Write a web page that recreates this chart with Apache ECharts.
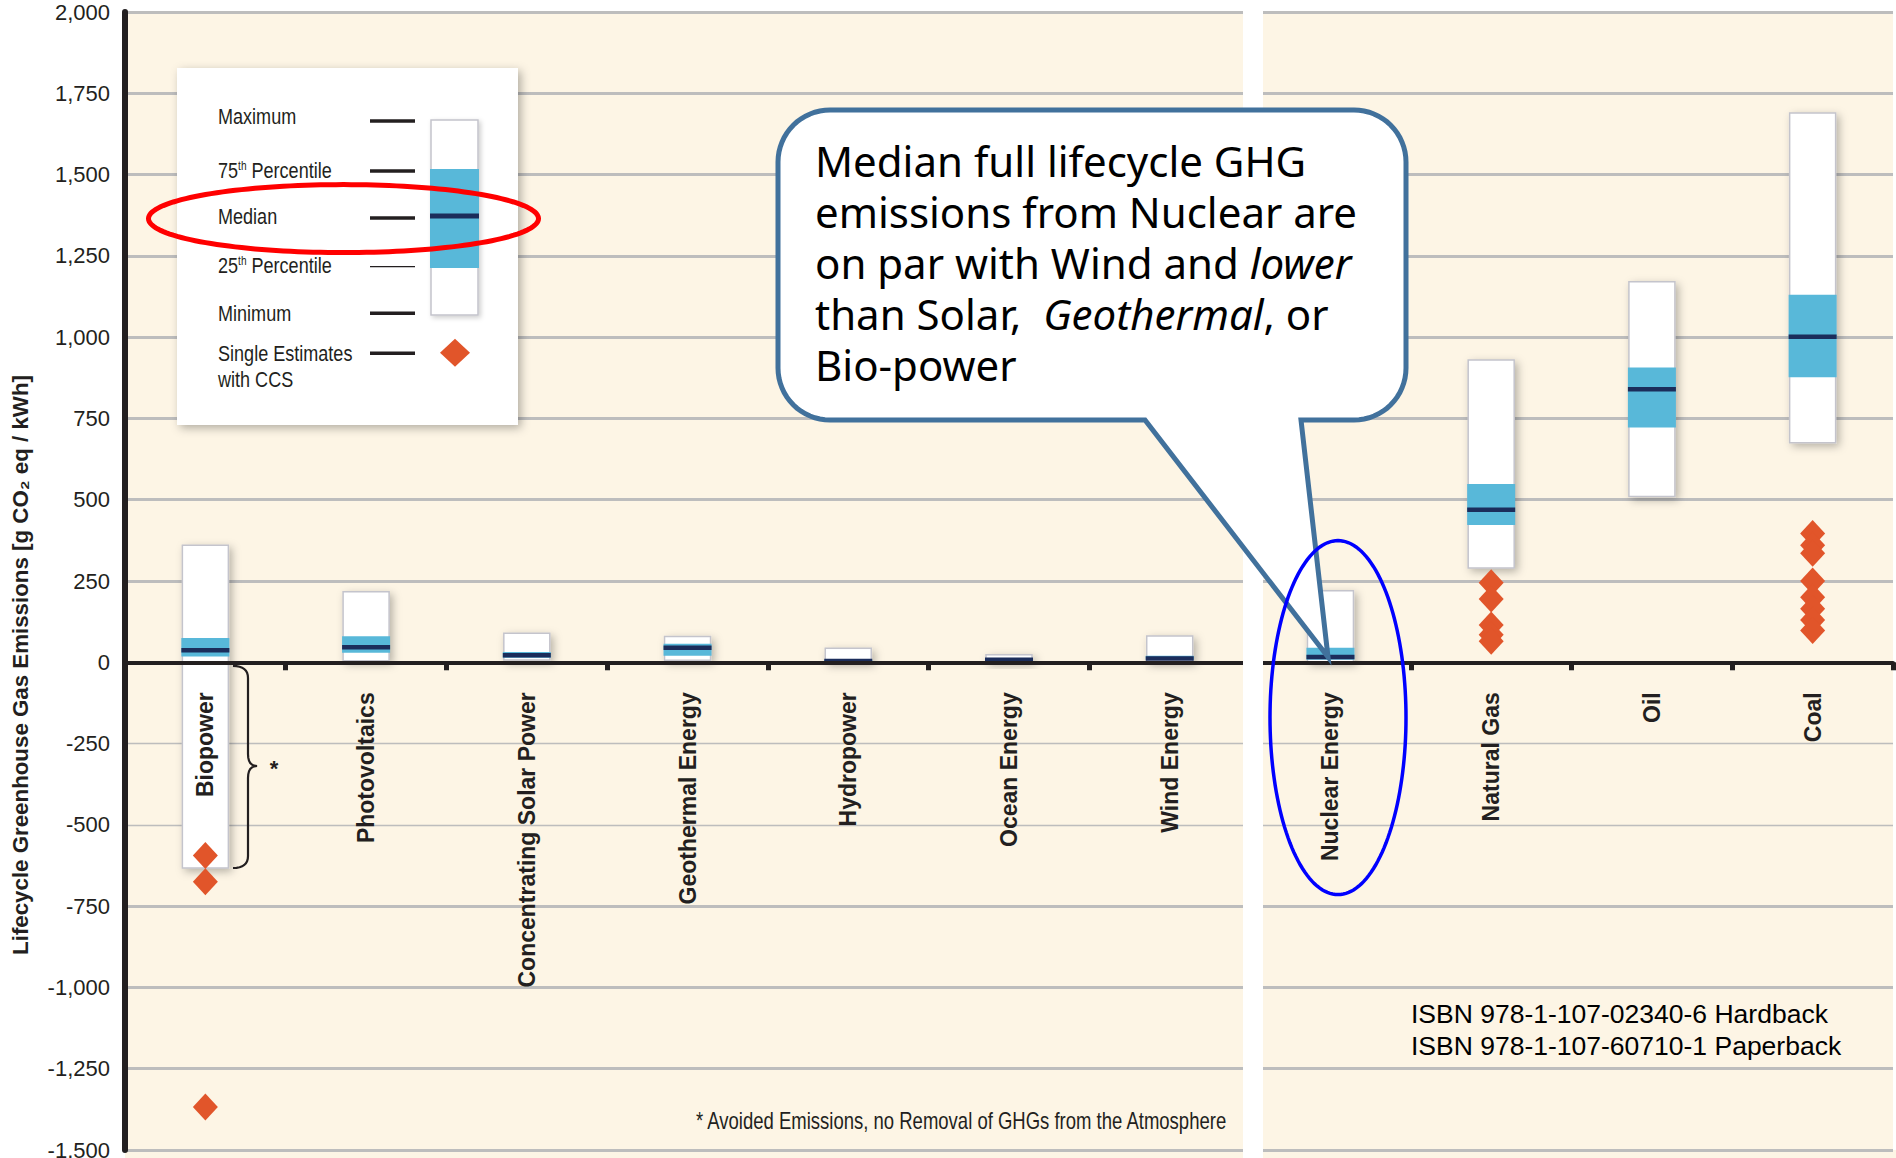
<!DOCTYPE html>
<html>
<head>
<meta charset="utf-8">
<script src="https://cdn.jsdelivr.net/npm/echarts/dist/echarts.min.js"></script>
<style>html,body{margin:0;padding:0;background:#ffffff;}#chart{width:1896px;height:1158px;}</style>
</head>
<body>
<div id="chart"></div>
<script>
// ---- data (g CO2 eq / kWh) ----
const categories = ['Biopower','Photovoltaics','Concentrating Solar Power','Geothermal Energy','Hydropower','Ocean Energy','Wind Energy','Nuclear Energy','Natural Gas','Oil','Coal'];
const minimum = [-633, 5, 7, 6, 0, 2, 2, 1, 290, 510, 675];
const p25     = [18, 29, 14, 20, 3, 6, 8, 8, 422, 722, 877];
const median  = [37, 46, 22, 45, 4, 8, 12, 16, 469, 840, 1001];
const p75     = [75, 80, 32, 57, 7, 9, 20, 45, 548, 907, 1130];
const maximum = [360, 217, 89, 79, 43, 23, 81, 220, 930, 1170, 1689];
const ccsBiopower = [-594, -675, -1368];
const ccsNaturalGas = [245, 195, 115, 85, 65];
const ccsCoal = [396, 360, 335, 250, 200, 165, 130, 98];
const gridTicks = [-1500, -1250, -1000, -750, -500, -250, 250, 500, 750, 1000, 1250, 1500, 1750, 2000];
const thinTicks = [-250, -500];
const legendLabels = ['Maximum', '75{sup|th} Percentile', 'Median', '25{sup|th} Percentile', 'Minimum', 'Single Estimates', 'with CCS'];
// callout lines: segments of [text, italic]
const calloutLines = [
  [['Median full lifecycle GHG', false]],
  [['emissions from Nuclear are', false]],
  [['on par with Wind and ', false], ['lower', true]],
  [['than Solar,  ', false], ['Geothermal', true], [', or', false]],
  [['Bio-power', false]]
];
const isbnLines = ['ISBN 978-1-107-02340-6 Hardback', 'ISBN 978-1-107-60710-1 Paperback'];
const footnote = '* Avoided Emissions, no Removal of GHGs from the Atmosphere';
const yTitle = 'Lifecycle Greenhouse Gas Emissions [g CO\u2082 eq / kWh]';

const SANS = "'Liberation Sans',Arial,sans-serif";
const CALLOUT_FONT = "'Noto Sans',sans-serif";
const INK = '#231f20';
const BLUE = '#58b8d9';
const NAVY = '#1b2d5b';
const DIAMOND = '#e1552a';

const Y_MIN = -1500, Y_MAX = 2000;
const GRID_TOP = 12, GRID_BOTTOM = 8, CHART_H = 1158;

const chart = echarts.init(document.getElementById('chart'), null, {renderer: 'svg'});

const boxData = categories.map((c, i) => [i, minimum[i], p25[i], median[i], p75[i], maximum[i]]);
const ccsData = []
  .concat(ccsBiopower.map(v => [0, v]))
  .concat(ccsNaturalGas.map(v => [8, v]))
  .concat(ccsCoal.map(v => [10, v]));

const BOXW = 46;
const plotH = CHART_H - GRID_TOP - GRID_BOTTOM;
const zeroFromBottom = plotH * (0 - Y_MIN) / (Y_MAX - Y_MIN);

// ---- helper shapes (decorations) ----
function arcPts(cx, cy, rad, a0, a1, n) {
  const pts = [];
  for (let k = 0; k <= n; k++) {
    const a = a0 + (a1 - a0) * k / n;
    pts.push([cx + rad * Math.cos(a), cy + rad * Math.sin(a)]);
  }
  return pts;
}
function ellipsePts(cx, cy, rx, ry) {
  const pts = [];
  for (let k = 0; k < 160; k++) {
    const a = 2 * Math.PI * k / 160;
    pts.push([cx + rx * Math.cos(a), cy + ry * Math.sin(a)]);
  }
  return pts;
}
const L = 778, T = 110, R = 1406, B = 420, r = 52;
let calloutPts = [];
calloutPts = calloutPts.concat(arcPts(R - r, T + r, r, -Math.PI / 2, 0, 16));
calloutPts = calloutPts.concat(arcPts(R - r, B - r, r, 0, Math.PI / 2, 16));
calloutPts.push([1301, B], [1328, 657], [1145, B]);
calloutPts = calloutPts.concat(arcPts(L + r, B - r, r, Math.PI / 2, Math.PI, 16));
calloutPts = calloutPts.concat(arcPts(L + r, T + r, r, Math.PI, 1.5 * Math.PI, 16));

function quad(p0, p1, p2, n) {
  const pts = [];
  for (let k = 0; k <= n; k++) {
    const t = k / n;
    pts.push([(1 - t) * (1 - t) * p0[0] + 2 * (1 - t) * t * p1[0] + t * t * p2[0],
              (1 - t) * (1 - t) * p0[1] + 2 * (1 - t) * t * p1[1] + t * t * p2[1]]);
  }
  return pts;
}
let bracePts = [];
bracePts = bracePts.concat(quad([233, 666], [248, 666], [248, 678], 8));
bracePts = bracePts.concat(quad([248, 754], [248, 766], [257, 766], 6));
bracePts = bracePts.concat(quad([257, 766], [248, 766], [248, 778], 6));
bracePts = bracePts.concat(quad([248, 856], [248, 868], [233, 868], 8));

const legendY = [116.7, 170.7, 216, 265.7, 313.3, 353.3, 379.3];
const legendLineY = [121, 171, 218, 266.7, 313.3, 353.3];

const graphics = [
  {type: 'rect', z: 0, shape: {x: 125, y: 1150, width: 1771, height: 8}, style: {fill: '#fdf5e5'}},
  {type: 'rect', z: 50, shape: {x: 1243, y: 0, width: 20, height: 1158}, style: {fill: '#ffffff'}},
  {type: 'text', z: 60, x: 20, y: 665, rotation: Math.PI / 2,
   style: {text: yTitle, font: `bold 22.3px ${SANS}`, fill: INK, textAlign: 'center', textVerticalAlign: 'middle'}},
  {type: 'polyline', z: 60, shape: {points: bracePts}, style: {fill: null, stroke: INK, lineWidth: 2.2}},
  {type: 'text', z: 60, x: 274, y: 768, style: {text: '*', font: `bold 22px ${SANS}`, fill: INK, textAlign: 'center', textVerticalAlign: 'middle'}},
  {type: 'text', z: 60, x: 696, y: 1121, scaleX: 0.805,
   style: {text: footnote, font: `23px ${SANS}`, fill: INK, textAlign: 'left', textVerticalAlign: 'middle'}},
  {type: 'text', z: 60, x: 1411, y: 1014, style: {text: isbnLines[0], font: `26.5px ${SANS}`, fill: '#000', textAlign: 'left', textVerticalAlign: 'middle'}},
  {type: 'text', z: 60, x: 1411, y: 1046, style: {text: isbnLines[1], font: `26.5px ${SANS}`, fill: '#000', textAlign: 'left', textVerticalAlign: 'middle'}},
  {type: 'rect', z: 100, shape: {x: 177, y: 68, width: 341, height: 357},
   style: {fill: '#ffffff', shadowBlur: 10, shadowColor: 'rgba(0,0,0,0.3)', shadowOffsetX: 3, shadowOffsetY: 3}},
  {type: 'rect', z: 101, shape: {x: 431, y: 120, width: 47, height: 195},
   style: {fill: '#ffffff', stroke: '#c4c4cc', lineWidth: 1.5, shadowBlur: 5, shadowColor: 'rgba(0,0,0,0.2)', shadowOffsetX: 2, shadowOffsetY: 2}},
  {type: 'rect', z: 102, shape: {x: 430, y: 169, width: 49, height: 99}, style: {fill: BLUE}},
  {type: 'rect', z: 103, shape: {x: 430, y: 213.5, width: 49, height: 5}, style: {fill: NAVY}},
  {type: 'polygon', z: 103, shape: {points: [[455, 338.7], [470, 352.7], [455, 366.7], [440, 352.7]]}, style: {fill: DIAMOND}},
  {type: 'polygon', z: 110, shape: {points: ellipsePts(343.5, 218.6, 195, 34)}, style: {fill: null, stroke: '#ff0000', lineWidth: 5}},
  {type: 'polygon', z: 110, shape: {points: calloutPts}, style: {fill: '#ffffff', stroke: '#41719c', lineWidth: 5, lineJoin: 'miter'}},
  {type: 'polygon', z: 120, shape: {points: ellipsePts(1338, 717.6, 68, 177)}, style: {fill: null, stroke: '#0000ff', lineWidth: 3.5}}
];
// callout text, one element per segment, laid out with measured widths
const measureCtx = document.createElement('canvas').getContext('2d');
calloutLines.forEach((segs, li) => {
  let x = 815;
  const y = 160.5 + li * 51;
  segs.forEach(([txt, ital]) => {
    const font = `${ital ? 'italic ' : ''}42px ${CALLOUT_FONT}`;
    graphics.push({type: 'text', z: 111, x: x, y: y,
      style: {text: txt, font: font, fill: '#000', textAlign: 'left', textVerticalAlign: 'middle'}});
    measureCtx.font = font;
    x += measureCtx.measureText(txt).width;
  });
});
legendLabels.forEach((t, k) => {
  graphics.push({type: 'text', z: 104, x: 218, y: legendY[k], scaleX: 0.84,
    style: {text: t, font: `21.5px ${SANS}`, fill: INK, textAlign: 'left', textVerticalAlign: 'middle',
            rich: {sup: {fontSize: 12, fontFamily: SANS, verticalAlign: 'top', fill: INK}}}});
});
legendLineY.forEach((y, k) => {
  graphics.push({type: 'line', z: 104, shape: {x1: 370, y1: y, x2: 415, y2: y},
    style: {stroke: INK, lineWidth: k === 3 ? 1.3 : 3.5}});
});

const option = {
  backgroundColor: '#ffffff',
  animation: false,
  grid: {left: 125, right: 3, top: GRID_TOP, bottom: GRID_BOTTOM, containLabel: false, outerBoundsMode: 'none',
         show: true, backgroundColor: '#fdf5e5', borderWidth: 0},
  xAxis: {
    type: 'category', data: categories, z: 8, position: 'bottom', offset: -zeroFromBottom,
    axisLine: {onZero: false, lineStyle: {color: INK, width: 4}},
    axisTick: {show: true, length: 8, lineStyle: {color: INK, width: 5}},
    axisLabel: {show: true, interval: 0, rotate: 90, margin: 30, color: INK, fontFamily: SANS, fontWeight: 'bold', fontSize: 23, hideOverlap: false},
    splitLine: {show: false}
  },
  yAxis: {
    type: 'value', min: Y_MIN, max: Y_MAX, interval: 250, z: 9,
    axisLine: {show: true, onZero: false, lineStyle: {color: INK, width: 6}},
    axisTick: {show: false},
    axisLabel: {margin: 15, color: INK, fontFamily: SANS, fontSize: 22,
                formatter: v => v.toLocaleString('en-US')},
    splitLine: {show: false}
  },
  series: [
    {
      type: 'line', data: [], z: 1, silent: true,
      markLine: {
        z: 1, silent: true, symbol: 'none', label: {show: false},
        data: gridTicks.map(v => ({yAxis: v, lineStyle: {color: '#bdbdbd', type: 'solid', width: thinTicks.includes(v) ? 1.3 : 3}}))
      }
    },
    {
      type: 'custom', z: 6, data: boxData, encode: {x: 0, y: [1, 2, 3, 4, 5]},
      renderItem: function (params, api) {
        const i = api.value(0);
        const x = api.coord([i, 0])[0];
        const yMin = api.coord([i, api.value(1)])[1];
        const yQ1 = api.coord([i, api.value(2)])[1];
        const yMed = api.coord([i, api.value(3)])[1];
        const yQ3 = api.coord([i, api.value(4)])[1];
        const yMax = api.coord([i, api.value(5)])[1];
        return {type: 'group', children: [
          {type: 'rect', shape: {x: x - BOXW / 2, y: yMax, width: BOXW, height: yMin - yMax},
           style: {fill: '#ffffff', stroke: '#c4c4cc', lineWidth: 1.5, shadowBlur: 8, shadowColor: 'rgba(0,0,0,0.28)', shadowOffsetX: 3, shadowOffsetY: 3}},
          {type: 'rect', shape: {x: x - BOXW / 2 - 1, y: yQ3, width: BOXW + 2, height: Math.max(yQ1 - yQ3, 1.5)}, style: {fill: BLUE}},
          {type: 'rect', shape: {x: x - BOXW / 2 - 1, y: yMed - 2.25, width: BOXW + 2, height: 4.5}, style: {fill: NAVY}}
        ]};
      }
    },
    {
      type: 'scatter', z: 7, data: ccsData, symbol: 'diamond', symbolSize: [25, 27],
      itemStyle: {color: DIAMOND, opacity: 1}
    }
  ],
  graphic: {elements: graphics}
};
chart.setOption(option);
</script>
</body>
</html>
